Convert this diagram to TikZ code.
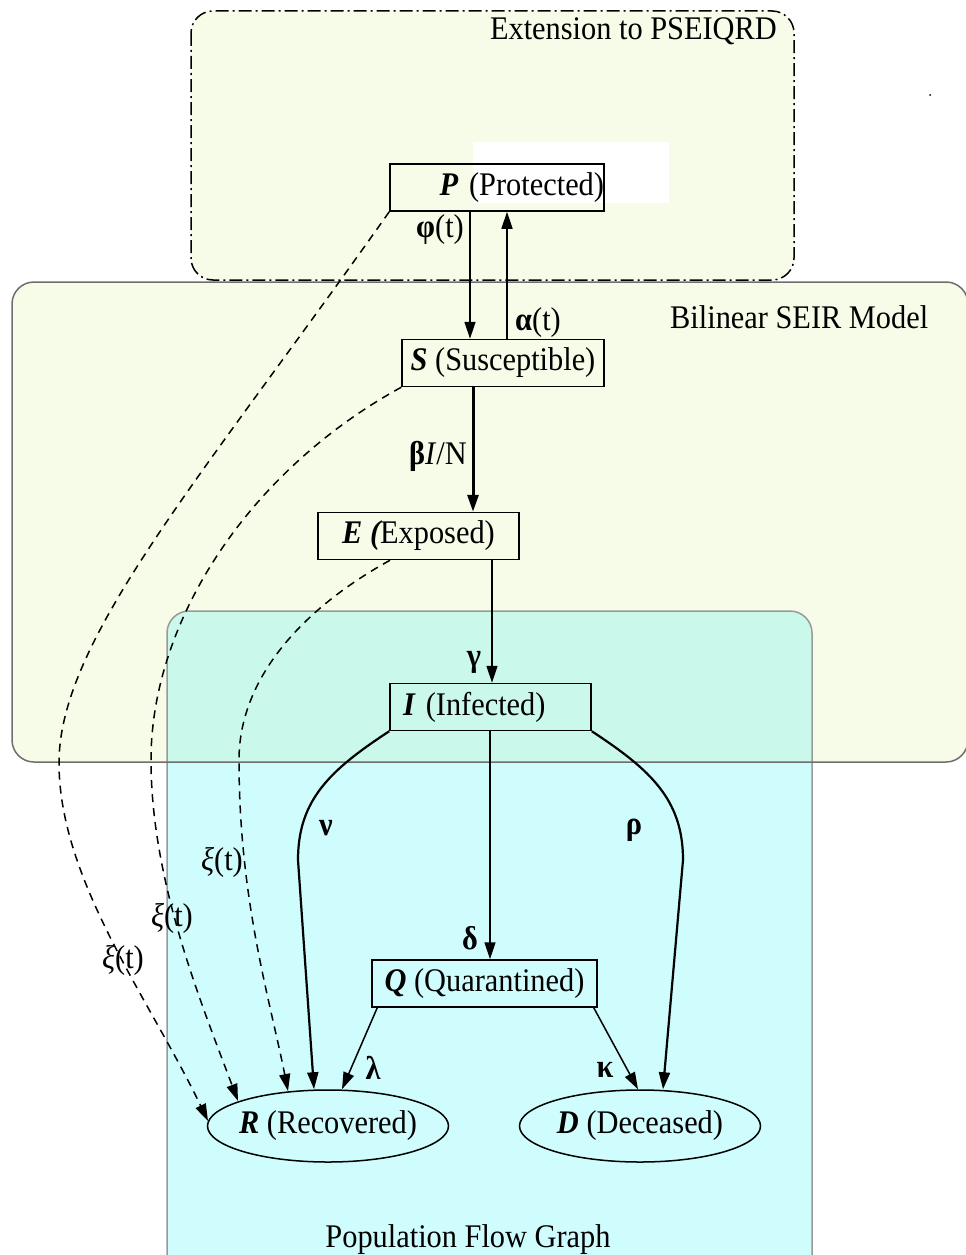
\documentclass[tikz,border=0pt]{standalone}
\usepackage{fontspec}
\setmainfont{Liberation Serif}[FakeStretch=0.92]
\usetikzlibrary{arrows.meta,shapes.geometric}
\definecolor{yel}{HTML}{F7FCE8}
\definecolor{cya}{HTML}{CFFCFC}
\definecolor{mint}{HTML}{CAF9EC}
\definecolor{bordA}{HTML}{6E6E6E}
\definecolor{bordB}{HTML}{999999}
\newcommand\myfs{\fontsize{33}{38}\selectfont}
\newcommand\bi[1]{{\bfseries\itshape #1}}
\tikzset{
  box/.style={draw, line width=1.5pt, minimum height=47pt, inner sep=0pt, font=\myfs},
  ell/.style={draw, ellipse, line width=1.5pt, minimum width=241pt, minimum height=72pt, inner xsep=-14pt, inner ysep=0pt, font=\myfs},
  flow/.style={line width=1.5pt, -{Triangle[length=17pt,width=11pt]}},
  dsh/.style={flow, dash pattern=on 8pt off 6pt},
  lab/.style={font=\myfs, inner sep=0pt},
  grp/.style={rounded corners=22pt}
}
\begin{document}
\begin{tikzpicture}[x=1pt,y=-1pt]
\useasboundingbox (0,0) rectangle (966,1255);
\clip (0,0) rectangle (966,1255);
% group backgrounds
\draw[fill=yel, line width=1.5pt, dash pattern=on 13pt off 4pt on 2pt off 4pt, grp] (191,11) rectangle (794,280);
\fill[yel, grp] (12,282) rectangle (968,762);
\fill[cya, grp] (167,611) rectangle (812,1280);
\begin{scope}
  \clip (0,0) rectangle (966,762);
  \fill[mint, grp] (167,611) rectangle (812,1280);
\end{scope}
\draw[bordB, line width=1.5pt, grp] (167,611) rectangle (812,1280);
\draw[bordA, line width=1.5pt, grp] (12,282) rectangle (968,762);
\node[lab, anchor=base east] (ttlExt) at (777,40) {Extension to PSEIQRD};
\node[lab, anchor=base west] (ttlSeir) at (670,328) {Bilinear SEIR Model};
\node[lab, anchor=base] (ttlPop) at (468,1247) {Population Flow Graph};
\fill[white] (473,142) rectangle (669,203);
\fill (930,95) circle (1pt);
% nodes
\node[box, text width=214pt, align=right] (P) at (497,187.5) {\bi{P} (Protected)\hspace*{4pt}};
\node[box, minimum width=202pt] (S) at (503,363) {\bi{S} (Susceptible)};
\node[box, minimum width=201pt] (E) at (418.5,536) {\bi{E (}Exposed)};
\node[box, text width=201pt, align=left] (I) at (490.5,707) {\hspace*{13pt}\bi{I} (Infected)};
\node[box, minimum width=225pt] (Q) at (484.5,983.5) {\bi{Q} (Quarantined)};
\node[ell] (R) at (328,1126) {\bi{R} (Recovered)};
\node[ell] (D) at (640,1126) {\bi{D} (Deceased)};
% solid flows
\draw[flow] ([xshift=-27pt]P.south) -- ([xshift=-33pt]S.north);
\draw[flow] ([xshift=4pt]S.north) -- ([xshift=10pt]P.south);
\draw[flow, line width=3pt] ([xshift=-30pt]S.south) -- ([xshift=54.5pt]E.north);
\draw[flow] ([xshift=73.5pt]E.south) -- ([xshift=1.5pt]I.north);
\draw[flow] ([xshift=-0.5pt]I.south) -- ([xshift=5.5pt]Q.north);
\draw[flow, line width=2.2pt] (I.south west) .. controls (330,770) and (298,800) .. (298,860) -- ([xshift=-14pt]R.north);
\draw[flow, line width=2.2pt] (I.south east) .. controls (651,770) and (683,800) .. (683,860) -- ([xshift=23pt]D.north);
\draw[flow] ([xshift=6pt]Q.south west) -- ([xshift=14pt]R.north);
\draw[flow] ([xshift=-4pt]Q.south east) -- ([xshift=-2pt]D.north);
% dashed flows
\draw[dsh] (P.south west) .. controls (200,480) and (59,640) .. (59,763) .. controls (59,880) and (150,1000) .. ([xshift=-120pt,yshift=5pt]R.center);
\draw[dsh] (S.south west) .. controls (250,470) and (151,620) .. (151,760) .. controls (151,880) and (200,1000) .. ([xshift=-90pt,yshift=25pt]R.center);
\draw[dsh] ([xshift=-28.5pt]E.south) .. controls (300,610) and (239,680) .. (239,760) .. controls (239,900) and (270,1000) .. ([xshift=-40pt,yshift=35pt]R.center);
% labels
\node[lab] (lphi) at (440,230) {\textbf{φ}(t)};
\node[lab] (lalpha) at (538,323) {\textbf{α}(t)};
\node[lab] (lbeta) at (438,456) {\textbf{β}\textit{I}/N};
\node[lab] (lgamma) at (474,662) {\textbf{γ}};
\node[lab] (ldelta) at (470,938) {\textbf{δ}};
\node[lab] (lnu) at (326,828) {\textbf{ν}};
\node[lab] (lrho) at (634,830) {\textbf{ρ}};
\node[lab] (llambda) at (373,1068) {\textbf{λ}};
\node[lab] (lkappa) at (605,1070) {\textbf{κ}};
\node[lab] (lxiA) at (222,862) {\textit{ξ}(t)};
\node[lab] (lxiB) at (172,918) {\textit{ξ}(t)};
\node[lab] (lxiC) at (123,960) {\textit{ξ}(t)};
\end{tikzpicture}
\end{document}
